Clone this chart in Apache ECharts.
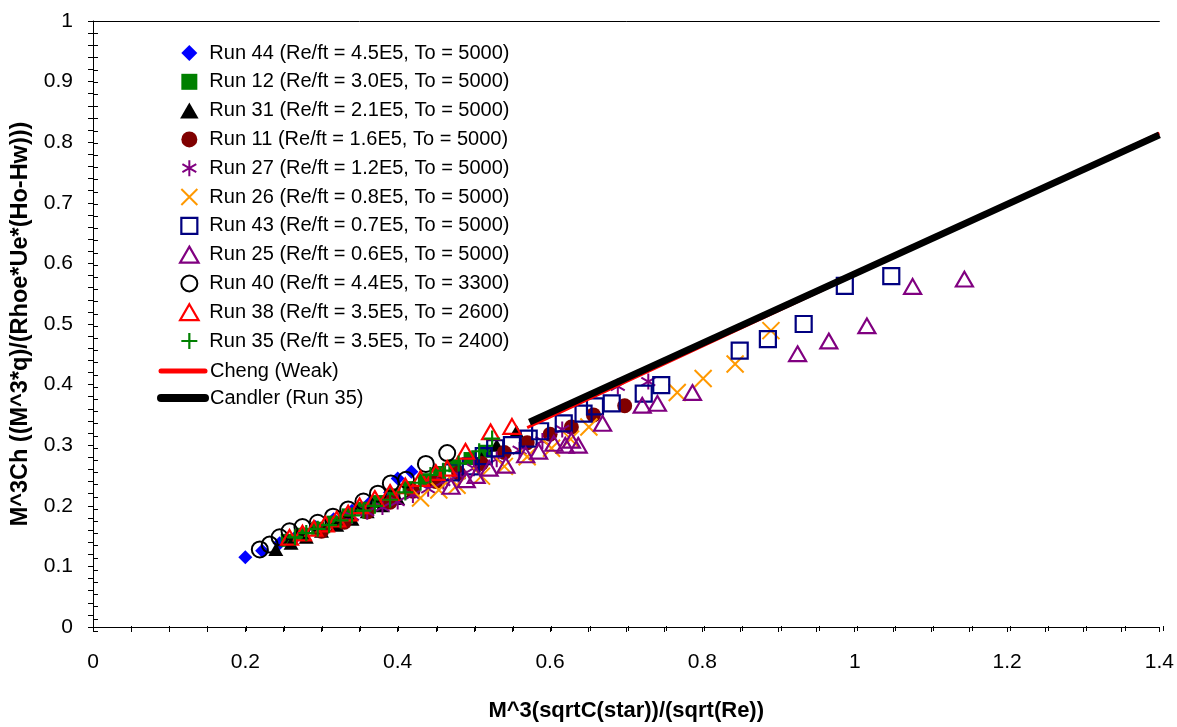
<!DOCTYPE html>
<html>
<head>
<meta charset="utf-8">
<script src="https://cdn.jsdelivr.net/npm/echarts@6/dist/echarts.min.js"></script>
<style>html,body{margin:0;padding:0;background:#fff}#c{width:1177px;height:727px}</style>
</head>
<body>
<div id="c"></div>
<script>
// ---- data ----
const xTickValues = [0, 0.2, 0.4, 0.6, 0.8, 1, 1.2, 1.4];
const yTickValues = [0, 0.1, 0.2, 0.3, 0.4, 0.5, 0.6, 0.7, 0.8, 0.9, 1];
const xTitle = 'M^3(sqrtC(star))/(sqrt(Re))';
const yTitle = 'M^3Ch ((M^3*q)/(Rhoe*Ue*(Ho-Hw)))';

const runNames = [
  'Run 44 (Re/ft = 4.5E5, To = 5000)',
  'Run 12 (Re/ft = 3.0E5, To = 5000)',
  'Run 31 (Re/ft = 2.1E5, To = 5000)',
  'Run 11 (Re/ft = 1.6E5, To = 5000)',
  'Run 27 (Re/ft = 1.2E5, To = 5000)',
  'Run 26 (Re/ft = 0.8E5, To = 5000)',
  'Run 43 (Re/ft = 0.7E5, To = 5000)',
  'Run 25 (Re/ft = 0.6E5, To = 5000)',
  'Run 40 (Re/ft = 4.4E5, To = 3300)',
  'Run 38 (Re/ft = 3.5E5, To = 2600)',
  'Run 35 (Re/ft = 3.5E5, To = 2400)'
];
const lineNames = ['Cheng (Weak)', 'Candler (Run 35)'];

const run44X = [0.200,0.222,0.245,0.268,0.292,0.316,0.340,0.364,0.390,0.400,0.418];
const run44Y = [0.115,0.126,0.138,0.151,0.165,0.178,0.192,0.206,0.222,0.245,0.256];
const run12X = [0.255,0.275,0.295,0.315,0.335,0.355,0.375,0.395,0.415,0.435,0.455,0.475,0.495,0.515];
const run12Y = [0.143,0.153,0.163,0.173,0.185,0.196,0.207,0.218,0.230,0.243,0.255,0.266,0.278,0.290];
const run31X = [0.240,0.260,0.280,0.300,0.320,0.340,0.360,0.380,0.400,0.420,0.450,0.480,0.510,0.530,0.556];
const run31Y = [0.128,0.138,0.148,0.158,0.168,0.178,0.190,0.200,0.212,0.224,0.240,0.258,0.278,0.300,0.323];
const run11X = [0.300,0.330,0.360,0.390,0.420,0.450,0.480,0.510,0.540,0.570,0.600,0.628,0.657,0.698];
const run11Y = [0.158,0.173,0.190,0.206,0.224,0.240,0.254,0.270,0.288,0.304,0.318,0.330,0.350,0.365];
const run27X = [0.340,0.360,0.380,0.400,0.420,0.440,0.460,0.480,0.500,0.530,0.560,0.590,0.616,0.689,0.729];
const run27Y = [0.183,0.190,0.198,0.207,0.218,0.228,0.240,0.251,0.262,0.277,0.292,0.307,0.326,0.397,0.405];
const run26X = [0.430,0.454,0.478,0.510,0.540,0.570,0.602,0.627,0.651,0.767,0.801,0.843,0.890];
const run26Y = [0.213,0.226,0.234,0.249,0.265,0.281,0.295,0.310,0.330,0.387,0.410,0.434,0.489];
const run43X = [0.470,0.496,0.513,0.528,0.550,0.572,0.587,0.618,0.644,0.659,0.681,0.723,0.746,0.849,0.886,0.933,0.987,1.048];
const run43Y = [0.255,0.265,0.282,0.295,0.300,0.311,0.323,0.336,0.352,0.364,0.369,0.385,0.399,0.456,0.475,0.500,0.563,0.579];
const run25X = [0.470,0.490,0.503,0.520,0.542,0.568,0.585,0.605,0.620,0.628,0.637,0.669,0.721,0.741,0.787,0.925,0.966,1.016,1.076,1.144];
const run25Y = [0.232,0.243,0.250,0.262,0.267,0.284,0.290,0.303,0.300,0.308,0.300,0.336,0.366,0.369,0.387,0.451,0.472,0.497,0.562,0.574];
const run40X = [0.219,0.232,0.245,0.258,0.275,0.295,0.315,0.335,0.355,0.374,0.391,0.411,0.437,0.465];
const run40Y = [0.128,0.136,0.148,0.158,0.165,0.172,0.182,0.194,0.207,0.220,0.237,0.243,0.269,0.287];
const run38X = [0.258,0.275,0.290,0.305,0.320,0.335,0.350,0.370,0.390,0.410,0.430,0.450,0.465,0.489,0.522,0.550];
const run38Y = [0.148,0.155,0.163,0.170,0.178,0.188,0.200,0.212,0.222,0.233,0.245,0.255,0.262,0.290,0.322,0.331];
const run35X = [0.265,0.280,0.295,0.310,0.325,0.340,0.355,0.370,0.390,0.410,0.430,0.443,0.460,0.480,0.507,0.524];
const run35Y = [0.148,0.155,0.162,0.168,0.176,0.184,0.192,0.200,0.210,0.222,0.238,0.251,0.258,0.270,0.290,0.311];

const chengX = [0.570, 0.750, 1.400];
const chengY = [0.329, 0.434, 0.815];
const candlerX = [0.573, 1.400];
const candlerY = [0.338, 0.812];

// ---- styles ----
const P = {
  diamond: 'path://M5,0L10,5L5,10L0,5Z',
  square: 'path://M0,0H10V10H0Z',
  triangle: 'path://M5,0L10,8.66L0,8.66Z',
  circle: 'path://M5,0A5,5 0 1 1 5,10A5,5 0 1 1 5,0Z',
  star: 'path://M5,0V10M0.67,2.5L9.33,7.5M0.67,7.5L9.33,2.5',
  cross: 'path://M0,0L10,10M10,0L0,10',
  plus: 'path://M5,0V10M0,5H10'
};
const T = 'rgba(0,0,0,0)';
const runStyles = [
  {sym: P.diamond, size: 14, fill: '#0000FF', stroke: '#0000FF', bw: 0},
  {sym: P.square, size: 13, fill: '#008000', stroke: '#008000', bw: 0},
  {sym: P.triangle, size: 15, fill: '#000000', stroke: '#000000', bw: 0},
  {sym: P.circle, size: 15, fill: '#800000', stroke: '#800000', bw: 0},
  {sym: P.star, size: 16, fill: T, stroke: '#800080', bw: 2},
  {sym: P.cross, size: 17, fill: T, stroke: '#FF9900', bw: 2},
  {sym: P.square, size: 16, fill: T, stroke: '#000080', bw: 2.2},
  {sym: P.triangle, size: 17, fill: T, stroke: '#800080', bw: 2.2},
  {sym: P.circle, size: 16, fill: T, stroke: '#000000', bw: 2},
  {sym: P.triangle, size: 17, fill: T, stroke: '#FF0000', bw: 2.2},
  {sym: P.plus, size: 16, fill: T, stroke: '#008000', bw: 2.2}
];
const runX = [run44X, run12X, run31X, run11X, run27X, run26X, run43X, run25X, run40X, run38X, run35X];
const runY = [run44Y, run12Y, run31Y, run11Y, run27Y, run26Y, run43Y, run25Y, run40Y, run38Y, run35Y];
const zip = (xs, ys) => xs.map((x, i) => [x, ys[i]]);

const FONT = '"Liberation Sans", Arial, sans-serif';

const series = runNames.map((name, i) => ({
  name, type: 'scatter', xAxisIndex: 0, yAxisIndex: 0,
  data: zip(runX[i], runY[i]),
  symbol: runStyles[i].sym, symbolSize: runStyles[i].size, symbolKeepAspect: true,
  itemStyle: {color: runStyles[i].fill, borderColor: runStyles[i].stroke, borderWidth: runStyles[i].bw, opacity: 1},
  emphasis: {disabled: true}, silent: true
}));
series.push({
  name: lineNames[0], type: 'line', xAxisIndex: 0, yAxisIndex: 0,
  data: zip(chengX, chengY), symbol: 'none', showSymbol: false, smooth: false,
  lineStyle: {color: '#FF0000', width: 3}, itemStyle: {color: '#FF0000'}, silent: true, z: 3
});
series.push({
  name: lineNames[1], type: 'line', xAxisIndex: 0, yAxisIndex: 0,
  data: zip(candlerX, candlerY), symbol: 'none', showSymbol: false, smooth: false,
  lineStyle: {color: '#000000', width: 7}, itemStyle: {color: '#000000'}, silent: true, z: 4
});

const axisCommonX = {type: 'value', min: xTickValues[0], max: xTickValues[xTickValues.length - 1], interval: 0.2};
const axisCommonY = {type: 'value', min: yTickValues[0], max: yTickValues[yTickValues.length - 1], interval: 0.1};
const gridBox = {left: 93, right: 14, top: 21, bottom: 96};

const option = {
  animation: false,
  backgroundColor: '#fff',
  textStyle: {fontFamily: FONT},
  grid: [Object.assign({}, gridBox), Object.assign({}, gridBox)],
  xAxis: [
    Object.assign({}, axisCommonX, {
      gridIndex: 0, position: 'bottom',
      axisLine: {show: true, onZero: false, lineStyle: {color: '#000', width: 1}},
      axisTick: {show: true, inside: false, length: 5, lineStyle: {color: '#000', width: 1}},
      minorTick: {show: true, splitNumber: 4, length: 5, lineStyle: {color: '#000', width: 1}},
      splitLine: {show: false}, minorSplitLine: {show: false},
      axisLabel: {color: '#000', fontSize: 21, fontFamily: FONT, margin: 25},
      name: xTitle, nameLocation: 'middle', nameGap: 73,
      nameTextStyle: {color: '#000', fontSize: 22, fontWeight: 'bold', fontFamily: FONT}
    }),
    Object.assign({}, axisCommonX, {
      gridIndex: 0, position: 'top',
      axisLine: {show: true, onZero: false, lineStyle: {color: '#000', width: 1}},
      axisTick: {show: false}, axisLabel: {show: false}, splitLine: {show: false}
    }),
    Object.assign({}, axisCommonX, {
      gridIndex: 1, position: 'bottom',
      axisLine: {show: false, onZero: false},
      axisTick: {show: true, inside: true, length: 5, lineStyle: {color: '#000', width: 1}},
      minorTick: {show: true, splitNumber: 4, length: 5, lineStyle: {color: '#000', width: 1}},
      axisLabel: {show: false}, splitLine: {show: false}
    })
  ],
  yAxis: [
    Object.assign({}, axisCommonY, {
      gridIndex: 0, position: 'left',
      axisLine: {show: true, onZero: false, lineStyle: {color: '#000', width: 1}},
      axisTick: {show: true, inside: false, length: 5, lineStyle: {color: '#000', width: 1}},
      minorTick: {show: true, splitNumber: 5, length: 5, lineStyle: {color: '#000', width: 1}},
      splitLine: {show: false}, minorSplitLine: {show: false},
      axisLabel: {color: '#000', fontSize: 21, fontFamily: FONT, margin: 20},
      name: yTitle, nameLocation: 'middle', nameGap: 58,
      nameTextStyle: {color: '#000', fontSize: 23.5, fontWeight: 'bold', fontFamily: FONT}
    }),
    Object.assign({}, axisCommonY, {
      gridIndex: 1, position: 'left',
      axisLine: {show: false, onZero: false},
      axisTick: {show: true, inside: true, length: 5, lineStyle: {color: '#000', width: 1}},
      minorTick: {show: true, splitNumber: 5, length: 5, lineStyle: {color: '#000', width: 1}},
      axisLabel: {show: false}, splitLine: {show: false}
    })
  ],
  legend: [
    {
      orient: 'vertical', left: 174, top: 38, padding: 5,
      itemWidth: 30, itemHeight: 16, itemGap: 8.8,
      selectedMode: false, symbolKeepAspect: true,
      textStyle: {color: '#000', fontSize: 20, fontFamily: FONT},
      data: runNames.map((name, i) => ({
        name, icon: runStyles[i].sym,
        itemStyle: {color: runStyles[i].fill, borderColor: runStyles[i].stroke, borderWidth: runStyles[i].bw}
      }))
    },
    {
      orient: 'vertical', left: 152, top: 356, padding: 5,
      itemWidth: 44, itemHeight: 14, itemGap: 7,
      selectedMode: false,
      textStyle: {color: '#000', fontSize: 20, fontFamily: FONT},
      data: [
        {name: lineNames[0], itemStyle: {color: T, borderWidth: 0, opacity: 0},
         lineStyle: {color: '#FF0000', width: 5, cap: 'round'}},
        {name: lineNames[1], itemStyle: {color: T, borderWidth: 0, opacity: 0},
         lineStyle: {color: '#000000', width: 8, cap: 'round'}}
      ]
    }
  ],
  series
};

const chart = echarts.init(document.getElementById('c'), null, {renderer: 'canvas'});
chart.setOption(option);
</script>
</body>
</html>
